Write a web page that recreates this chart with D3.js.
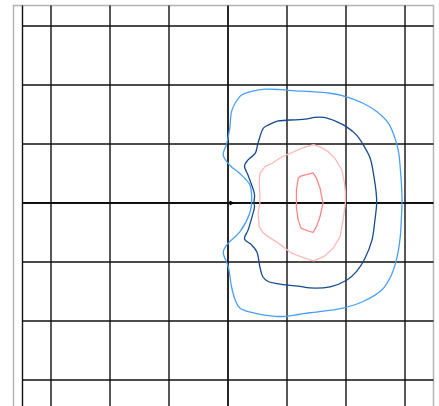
<!DOCTYPE html>
<html>
<head>
<meta charset="utf-8">
<script src="https://cdn.jsdelivr.net/npm/d3@7"></script>
<style>
  html, body { margin: 0; padding: 0; background: #fff; }
  svg { display: block; }
</style>
</head>
<body>
<svg id="chart" width="439" height="406"></svg>
<script>
// Grid positions (data units)
const xTicks = [-30, -20, -10, 0, 10, 20, 30];
const yTicks = [-30, -20, -10, 0, 10, 20, 30];

// Contour levels, outermost to innermost, as closed rings of [x, y]
const contourOuter = [
  [4.0, 0], [4.0, 1.4], [3.7, 3.1], [2.0, 5.0], [0.3, 6.4], [-0.8, 8.1], [-0.2, 10.1],
  [0.3, 12.7], [0.6, 15.5], [1.2, 16.9], [2.3, 18.3], [4.0, 18.9], [6.3, 19.3],
  [9.1, 19.2], [11.4, 19.0], [13.9, 18.9], [17.3, 18.6], [20.1, 18.0], [22.9, 16.9],
  [25.2, 15.5], [27.2, 13.5], [28.3, 11.0], [28.9, 8.7], [29.2, 5.9], [29.4, 3.1],
  [29.5, 0], [29.4, -2.3], [29.2, -5.7], [28.6, -9.4], [27.7, -12.2], [26.1, -14.7],
  [22.9, -16.7], [19.5, -17.8], [13.9, -18.6], [11.9, -18.9], [9.9, -19.2], [8.0, -19.2],
  [4.6, -18.7], [2.0, -17.8], [1.2, -16.4], [0.6, -14.2], [0.05, -10.8], [-0.8, -8.3],
  [0.05, -6.8], [2.0, -4.9], [3.7, -1.7]
];
const contourSecond = [
  [4.4, 0], [4.5, 1.4], [4.0, 3.1], [3.4, 4.7], [2.8, 6.3], [3.4, 7.3], [4.6, 8.4],
  [5.0, 9.8], [5.4, 11.2], [6.0, 12.7], [6.8, 13.2], [8.5, 13.9], [11.4, 14.1],
  [13.1, 14.2], [14.7, 14.5], [16.2, 14.5], [18.4, 13.8], [20.1, 12.9], [21.8, 11.5],
  [22.9, 9.9], [24.1, 7.6], [24.7, 4.7], [25.1, 1.9], [25.2, 0], [24.9, -2.9],
  [24.4, -6.3], [23.2, -9.4], [21.8, -11.6], [20.1, -13.1], [17.3, -14.2], [13.9, -14.4],
  [11.9, -14.1], [8.5, -13.7], [6.8, -13.3], [5.9, -12.5], [5.4, -10.8], [4.9, -8.3],
  [4.0, -7.1], [2.8, -6.1], [3.4, -4.6], [4.0, -2.6], [4.5, -0.6]
];
const contourThird = [
  [5.4, 0], [5.4, 1.4], [5.3, 3.6], [5.4, 5.0], [6.3, 6.2], [7.4, 6.7], [9.1, 7.8],
  [11.4, 8.8], [13.1, 9.5], [14.5, 9.9], [15.6, 9.5], [17.0, 8.7], [18.1, 7.6],
  [19.3, 5.6], [19.7, 3.6], [19.9, 1.9], [19.9, 0], [19.5, -2.9], [19.0, -5.7],
  [17.8, -7.7], [16.2, -9.1], [14.5, -9.8], [13.1, -9.4], [10.8, -8.5], [8.5, -6.8],
  [6.8, -5.7], [6.0, -5.1], [5.3, -4.0], [5.1, -1.7]
];
const contourInner = [
  [11.6, 0], [11.6, 2.2], [11.9, 4.2], [12.2, 4.5], [14.4, 5.1], [15.0, 4.2],
  [15.6, 2.5], [16.1, 0], [15.6, -2.3], [15.0, -4.0], [14.4, -5.0], [12.4, -4.3],
  [11.9, -2.9], [11.6, -0.8]
];
const contourColors = ["#4a9ff5", "#154a8c", "#ffb8b8", "#ff8585"];
const contours = [contourOuter, contourSecond, contourThird, contourInner];

// Source position marker
const source = [[0.7, 0]];

const svg = d3.select("#chart");
const x = d3.scaleLinear().domain([-30, 30]).range([51, 405]);
const y = d3.scaleLinear().domain([-30, 30]).range([380, 26]);

// Frame and plot edges (pixels)
const frameLeft = 13.5, frameRight = 433.5, frameTop = 5.5, plotLeft = 22.5, bottom = 420;

const frame = svg.append("g").attr("stroke", "#b3b3b3").attr("stroke-width", 1.5).attr("fill", "none");
frame.append("path").attr("d", `M${frameLeft},${bottom}V${frameTop}H${frameRight}V${bottom}`);

const grid = svg.append("g").attr("stroke", "#111").attr("stroke-width", 1.4);
grid.append("line").attr("x1", plotLeft).attr("x2", plotLeft).attr("y1", frameTop).attr("y2", bottom);
grid.selectAll("line.v").data(xTicks).join("line").attr("class", "v")
  .attr("x1", d => x(d)).attr("x2", d => x(d)).attr("y1", frameTop).attr("y2", bottom)
  .attr("stroke-width", d => d === 0 ? 1.8 : 1.4);
grid.selectAll("line.h").data(yTicks).join("line").attr("class", "h")
  .attr("x1", plotLeft).attr("x2", frameRight).attr("y1", d => y(d)).attr("y2", d => y(d))
  .attr("stroke-width", d => d === 0 ? 1.8 : 1.4);

// Outer two levels are drawn smoothed, inner two as plain polygons
const smooth = d3.line().x(d => x(d[0])).y(d => y(d[1])).curve(d3.curveCatmullRomClosed.alpha(0.5));
const straight = d3.line().x(d => x(d[0])).y(d => y(d[1])).curve(d3.curveLinearClosed);
svg.append("g").selectAll("path").data(contours).join("path")
  .attr("d", (d, i) => (i < 2 ? smooth : straight)(d))
  .attr("fill", "none")
  .attr("stroke", (d, i) => contourColors[i])
  .attr("stroke-width", 1.3)
  .attr("stroke-linejoin", "round");

svg.append("g").selectAll("path").data(source).join("path")
  .attr("transform", d => `translate(${x(d[0])},${y(d[1])})`)
  .attr("d", "M-2.5,-2.5L2.5,0L-2.5,2.5Z")
  .attr("fill", "#000");
</script>
</body>
</html>
